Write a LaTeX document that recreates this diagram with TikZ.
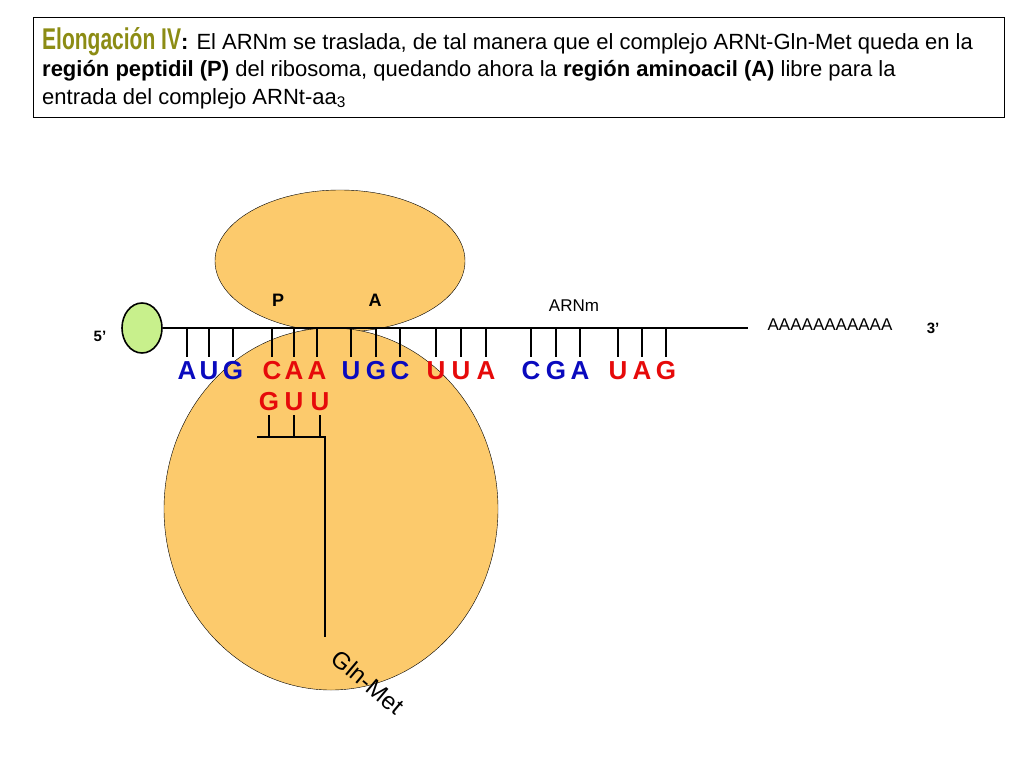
\documentclass[tikz,border=0pt]{standalone}
\usepackage{fontspec}
\usetikzlibrary{shapes.geometric}
\setmainfont{Liberation Sans}
\begin{document}
\begin{tikzpicture}[x=1pt,y=-1pt,
  base/.style={line width=2.2pt},
  tk/.style={line width=2pt},
  bl/.style={text=blueL,font=\fontsize{26}{26}\selectfont\bfseries,inner sep=0pt},
  rd/.style={text=redL,font=\fontsize{26}{26}\selectfont\bfseries,inner sep=0pt},
  lab/.style={font=\fontsize{17}{17}\selectfont,inner sep=0pt}]
\definecolor{blueL}{RGB}{10,10,190}
\definecolor{redL}{RGB}{230,10,10}
\definecolor{ribo}{RGB}{252,202,108}
\definecolor{capg}{RGB}{200,240,140}
\definecolor{olive}{RGB}{140,140,20}
\useasboundingbox (0,0) rectangle (1024,768);
\node[draw,line width=1pt,minimum width=971pt,minimum height=100pt,anchor=north west,inner sep=0pt] (box) at (33,17) {};
\node[anchor=north west,align=left,inner sep=0pt,font=\fontsize{22}{27.5}\selectfont] (title) at (42,27)
{{\color{olive}\fontsize{30}{26}\selectfont\scalebox{0.7}[1]{\bfseries Elongación IV}}\textbf{:} El ARNm se traslada, de tal manera que el complejo ARNt-Gln-Met queda en la\\ \textbf{región peptidil (P)} del ribosoma, quedando ahora la \textbf{región aminoacil (A)} libre para la\\ entrada del complejo ARNt-aa\textsubscript{3}};
\node[draw,fill=ribo,ellipse,minimum width=250pt,minimum height=142pt] (top) at (340,261) {};
\node[draw,fill=ribo,ellipse,minimum width=334pt,minimum height=362pt] (bot) at (331,509) {};
\node[draw,fill=capg,line width=1.6pt,ellipse,minimum width=40pt,minimum height=50pt] (cap) at (142,328) {};
\coordinate (mend) at (748,328);
\draw[base] (cap.east) -- (mend);
\foreach \x/\l/\s in {187/A/bl,209/U/bl,233/G/bl,272/C/rd,294/A/rd,317/A/rd,351/U/bl,376/G/bl,400/C/bl,436/U/rd,461/U/rd,486/A/rd,531/C/bl,556/G/bl,580/A/bl,618/U/rd,642/A/rd,666/G/rd}{
  \draw[tk] (\x,328) -- (\x,357);
  \node[\s] at (\x,371) {\l};
}
\foreach \x/\l in {269/G,294/U,320/U}{
  \node[rd] at (\x,402) {\l};
  \draw[tk] (\x,415) -- (\x,437);
}
\coordinate (h1) at (257,437);
\coordinate (h2) at (325,437);
\coordinate (h3) at (325,637);
\draw[tk] (h1) -- (h2) -- (h3);
\node[rotate=-40,font=\fontsize{24}{24}\selectfont,inner sep=0pt] (gm) at (368,682) {Gln-Met};
\node[lab,font=\fontsize{18}{18}\selectfont\bfseries] (P) at (278,300) {P};
\node[lab,font=\fontsize{18}{18}\selectfont\bfseries] (A) at (375,300) {A};
\node[lab] (arn) at (574,306) {ARNm};
\node[lab] (poly) at (830,325) {AAAAAAAAAAA};
\node[lab,font=\fontsize{15}{15}\selectfont\bfseries] (f5) at (100,336) {5’};
\node[lab,font=\fontsize{15}{15}\selectfont\bfseries] (f3) at (933,328) {3’};
\end{tikzpicture}
\end{document}
